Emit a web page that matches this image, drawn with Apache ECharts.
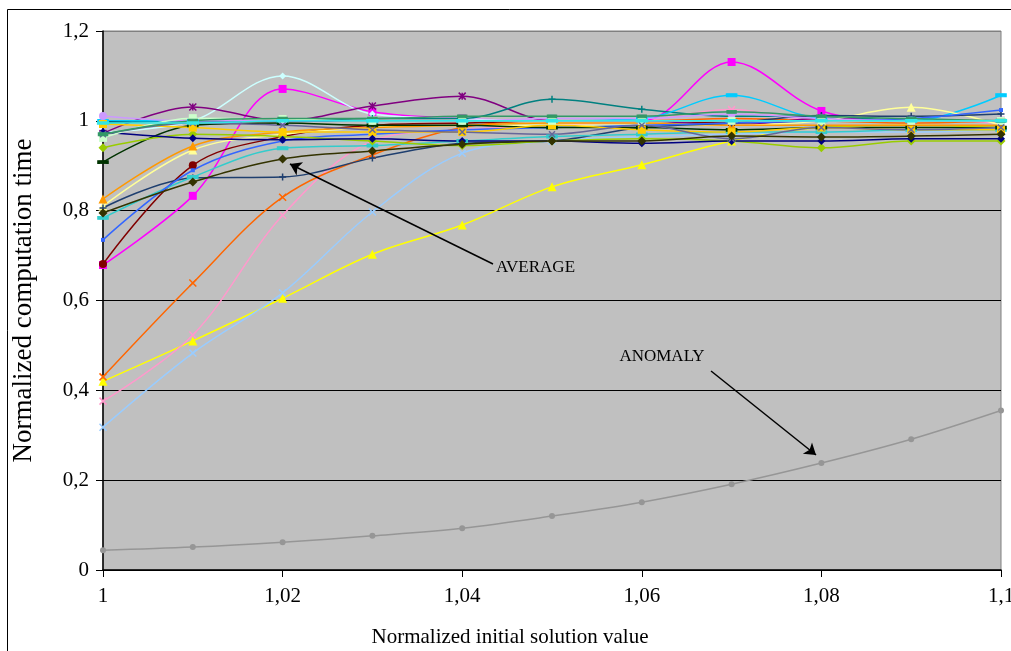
<!DOCTYPE html>
<html><head><meta charset="utf-8">
<script src="https://cdn.jsdelivr.net/npm/echarts@6/dist/echarts.min.js"></script>
<style>html,body{margin:0;padding:0;background:#fff;overflow:hidden}#c{width:1011px;height:651px}</style>
</head><body><div id="c"></div>
<script>
const xValues = [1.00,1.01,1.02,1.03,1.04,1.05,1.06,1.07,1.08,1.09,1.10];
const xTicks = [1, 1.02, 1.04, 1.06, 1.08, 1.1];
const yTicks = [0, 0.2, 0.4, 0.6, 0.8, 1.0, 1.2];

const anomaly    = [0.044,0.051,0.062,0.076,0.093,0.120,0.151,0.191,0.238,0.291,0.355];
const average    = [0.795,0.864,0.915,0.933,0.948,0.955,0.955,0.966,0.964,0.966,0.970];
const yellowTri  = [0.420,0.510,0.605,0.703,0.768,0.853,0.902,0.955,0.985,0.990,0.985];
const lightBlue  = [0.318,0.483,0.617,0.797,0.928,0.955,0.965,0.970,0.975,0.975,0.980];
const pinkX      = [0.376,0.523,0.790,0.955,0.980,0.990,1.000,1.025,1.000,1.000,0.995];
const orangeX    = [0.430,0.639,0.830,0.924,0.985,1.000,1.000,1.005,1.000,0.995,1.000];
const magentaSq  = [0.679,0.833,1.071,1.020,1.005,1.000,1.000,1.131,1.022,1.000,1.000];
const darkRed    = [0.681,0.901,0.965,0.990,0.995,1.000,1.000,0.995,1.000,1.000,1.000];
const lightCyan  = [0.975,1.000,1.100,1.015,1.005,1.000,1.000,1.000,1.000,1.000,1.000];
const purpleStar = [0.972,1.031,1.000,1.033,1.055,1.000,1.000,0.990,1.005,1.000,1.000];
const tealPlus   = [0.995,1.000,1.000,1.005,1.005,1.048,1.026,1.010,1.010,1.000,1.000];
const skyDash    = [1.000,1.000,1.000,1.000,1.000,1.000,1.005,1.057,1.005,1.000,1.057];
const paleYellow = [0.810,0.935,0.970,0.985,0.990,0.990,0.990,0.990,1.000,1.030,0.990];
const orangeTri  = [0.826,0.944,0.975,0.985,0.990,0.995,0.995,0.990,0.990,0.990,0.990];
const navyPlus   = [0.806,0.873,0.875,0.917,0.950,0.955,0.985,0.995,1.012,1.010,1.015];
const tealDash   = [0.784,0.875,0.939,0.945,0.955,0.965,0.970,0.975,0.975,0.980,0.980];
const royalBlue  = [0.735,0.890,0.955,0.970,0.980,0.985,0.990,0.995,1.000,1.005,1.024];
const darkGreen  = [0.908,0.990,0.995,0.990,0.990,0.985,0.985,0.980,0.985,0.985,0.985];
const yellowGrn  = [0.940,0.970,0.965,0.955,0.945,0.955,0.960,0.955,0.940,0.955,0.955];
const lavender   = [1.011,1.000,1.000,1.000,1.000,1.005,1.005,1.015,1.005,1.000,1.000];
const goldSq     = [0.993,0.985,0.975,0.975,0.975,0.990,0.980,0.975,0.985,0.980,0.980];
const navyDia    = [0.975,0.961,0.958,0.960,0.955,0.955,0.950,0.955,0.955,0.960,0.960];
const lightGreen = [0.962,1.006,1.004,1.000,1.000,1.000,1.000,1.000,1.000,1.000,1.000];
const slateBlue  = [0.970,0.995,0.990,0.980,0.975,0.970,0.990,0.960,0.985,0.980,0.985];
const seaGreen   = [0.970,1.000,1.005,1.005,1.010,1.010,1.010,1.020,1.010,1.005,1.000];
const cyanLine   = [0.995,0.995,1.000,1.000,1.000,1.000,1.000,1.000,1.000,1.000,1.000];

const SYM = {
  x: 'path://M0,0L10,10M10,0L0,10',
  plus: 'path://M5,0L5,10M0,5L10,5',
  star: 'path://M0,0L10,10M10,0L0,10M5,0L5,10',
  dash: 'path://M0,0L10,0L10,3L0,3Z'
};

const defs = [
  ['ANOMALY', anomaly, '#969696', 'circle', 6],
  ['Yellow', yellowTri, '#FFFF00', 'triangle', 9],
  ['LightBlue', lightBlue, '#99CCFF', SYM.x, 7],
  ['Pink', pinkX, '#FF99CC', SYM.x, 7],
  ['Orange', orangeX, '#FF6600', SYM.x, 7],
  ['Magenta', magentaSq, '#FF00FF', 'rect', 8],
  ['DarkRed', darkRed, '#800000', 'circle', 8],
  ['LightCyan', lightCyan, '#CCFFFF', 'diamond', 7],
  ['Purple', purpleStar, '#800080', SYM.star, 7],
  ['Teal', tealPlus, '#008080', SYM.plus, 7],
  ['Sky', skyDash, '#00CCFF', SYM.dash, [9,3]],
  ['PaleYellow', paleYellow, '#FFFF99', 'triangle', 9],
  ['OrangeTri', orangeTri, '#FF9900', 'triangle', 9],
  ['NavyPlus', navyPlus, '#1F3F6F', SYM.plus, 7],
  ['TealDash', tealDash, '#33CCCC', SYM.dash, [9,3]],
  ['Royal', royalBlue, '#3366FF', 'rect', 4],
  ['DarkGreen', darkGreen, '#003300', SYM.dash, [9,3]],
  ['YellowGreen', yellowGrn, '#99CC00', 'diamond', 9],
  ['Lavender', lavender, '#CC99FF', 'circle', 8],
  ['Gold', goldSq, '#FFCC00', 'rect', 8],
  ['NavyDia', navyDia, '#000080', 'diamond', 8],
  ['LightGreen', lightGreen, '#CCFFCC', 'rect', 8],
  ['Slate', slateBlue, '#666699', SYM.x, 6],
  ['SeaGreen', seaGreen, '#339966', SYM.dash, [8,3]],
  ['Cyan', cyanLine, '#33E6E6', SYM.dash, [7,2]],
  ['AVERAGE', average, '#333300', 'diamond', 9]
];

const FONT = 'Liberation Serif';
function fmt(v){ return String(+v.toFixed(2)).replace('.', ','); }

const series = defs.map(([name, vals, color, sym, size]) => ({
  name, type: 'line', smooth: 0.35,
  data: vals.map((v,i) => [xValues[i], v]),
  symbol: sym, symbolSize: size, showSymbol: true,
  lineStyle: { color, width: 1.5 },
  itemStyle: { color, borderColor: color, borderWidth: sym.startsWith && sym.startsWith('path') ? 1.5 : 0 },
  emphasis: { disabled: true },
  animation: false, z: 3
}));

const avg = series.find(s => s.name === 'AVERAGE');
avg.markLine = {
  silent: true, symbol: ['none','arrow'], symbolSize: 11,
  lineStyle: { color: '#000', width: 1.5, type: 'solid' },
  label: { show: false },
  data: [[{ coord: [1.04343, 0.6812] }, { coord: [1.02082, 0.9038] }]]
};
avg.markPoint = {
  silent: true, symbol: 'circle', symbolSize: 0,
  label: { show: true, position: 'right', distance: 3, formatter: 'AVERAGE', color: '#000', fontFamily: FONT, fontSize: 17 },
  data: [{ coord: [1.04343, 0.6723] }]
};
const an = series.find(s => s.name === 'ANOMALY');
an.markLine = {
  silent: true, symbol: ['none','arrow'], symbolSize: 11,
  lineStyle: { color: '#000', width: 1.5, type: 'solid' },
  label: { show: false },
  data: [[{ coord: [1.06771, 0.443] }, { coord: [1.0794, 0.256] }]]
};
an.markPoint = {
  silent: true, symbol: 'circle', symbolSize: 0,
  label: { show: true, position: 'inside', formatter: 'ANOMALY', color: '#000', fontFamily: FONT, fontSize: 17 },
  data: [{ coord: [1.06225, 0.4742] }]
};

const chart = echarts.init(document.getElementById('c'), null, { renderer: 'canvas', width: 1011, height: 651 });
chart.setOption({
  animation: false,
  backgroundColor: '#fff',
  textStyle: { fontFamily: FONT },
  graphic: [{ type: 'rect', shape: { x: 7.5, y: 9.5, width: 1010, height: 650 }, style: { fill: 'none', stroke: '#000', lineWidth: 1 }, z: -10, silent: true }],
  grid: { left: 103, right: 10, top: 31, bottom: 81, show: true, containLabel: false, outerBoundsMode: 'none', backgroundColor: '#C0C0C0', borderColor: '#808080', borderWidth: 1 },
  xAxis: {
    type: 'value', min: 1, max: 1.1, interval: 0.02,
    name: 'Normalized initial solution value', nameLocation: 'middle', nameGap: 57,
    nameTextStyle: { fontFamily: FONT, fontSize: 21, color: '#000', padding: [0, 84, 0, 0] },
    axisLine: { show: true, lineStyle: { color: '#000', width: 1.5 } },
    axisTick: { show: true, length: 7, lineStyle: { color: '#000' } },
    axisLabel: { fontFamily: FONT, fontSize: 21, color: '#000', margin: 16, formatter: v => fmt(v), customValues: xTicks },
    splitLine: { show: false }
  },
  yAxis: {
    type: 'value', min: 0, max: 1.2, interval: 0.2,
    name: 'Normalized computation time', nameLocation: 'middle', nameGap: 66,
    nameTextStyle: { fontFamily: FONT, fontSize: 27, color: '#000' },
    axisLine: { show: true, lineStyle: { color: '#000', width: 1.5 } },
    axisTick: { show: true, length: 7, lineStyle: { color: '#000' } },
    axisLabel: { fontFamily: FONT, fontSize: 21, color: '#000', margin: 14, formatter: v => fmt(v) },
    splitLine: { show: true, lineStyle: { color: ['#000','#000','#000','#000','#000','#000','#808080'], width: 1.2 } }
  },
  series
});
</script></body></html>
